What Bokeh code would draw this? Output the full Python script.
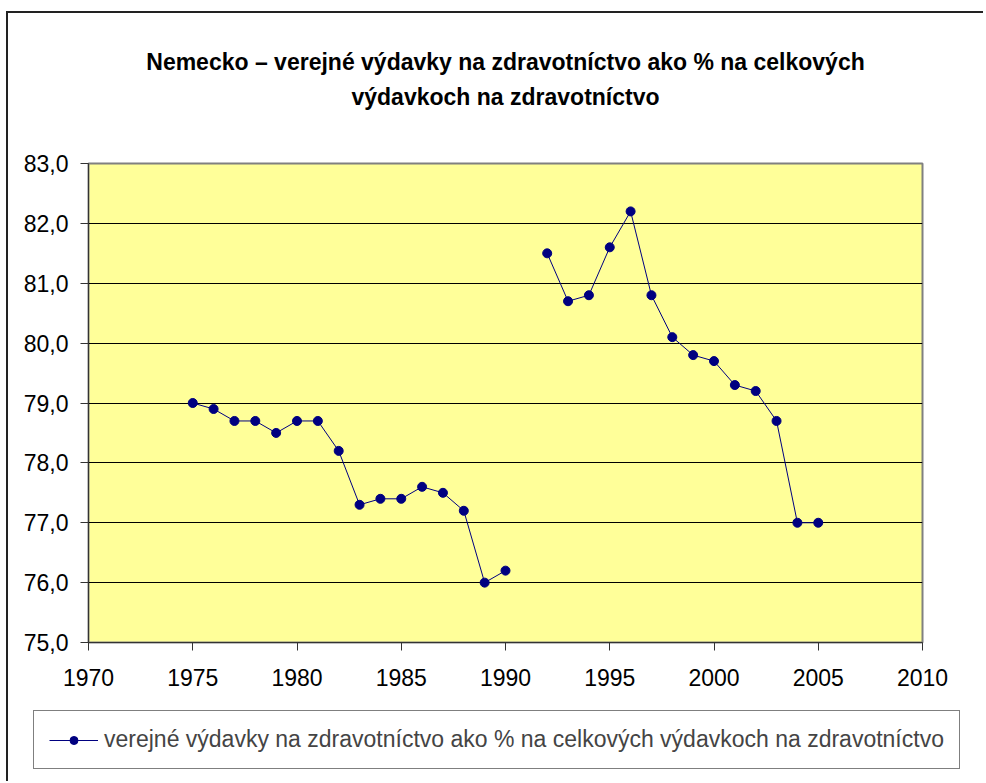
from bokeh.plotting import figure
from bokeh.models import Range1d, FixedTicker, Legend, LegendItem, Title, ColumnDataSource
from bokeh.embed import file_html
from bokeh.resources import INLINE

# ---- data ----
years = [1975, 1976, 1977, 1978, 1979, 1980, 1981, 1982, 1983, 1984, 1985, 1986, 1987, 1988, 1989, 1990,
         1991,
         1992, 1993, 1994, 1995, 1996, 1997, 1998, 1999, 2000, 2001, 2002, 2003, 2004, 2005]
values = [79.0, 78.9, 78.7, 78.7, 78.5, 78.7, 78.7, 78.2, 77.3, 77.4, 77.4, 77.6, 77.5, 77.2, 76.0, 76.2,
          float("nan"),
          81.5, 80.7, 80.8, 81.6, 82.2, 80.8, 80.1, 79.8, 79.7, 79.3, 79.2, 78.7, 77.0, 77.0]
x_ticks = [1970, 1975, 1980, 1985, 1990, 1995, 2000, 2005, 2010]
y_ticks = [75, 76, 77, 78, 79, 80, 81, 82, 83]
y_tick_labels = ["75,0", "76,0", "77,0", "78,0", "79,0", "80,0", "81,0", "82,0", "83,0"]
title_line1 = "Nemecko – verejné výdavky na zdravotníctvo ako % na celkových"
title_line2 = "výdavkoch na zdravotníctvo"
series_label = "verejné výdavky na zdravotníctvo ako % na celkových výdavkoch na zdravotníctvo"

FONT = "Liberation Sans"
NAVY = "#000080"

src = ColumnDataSource(dict(x=years, y=values))

# ---------------- main chart ----------------
p = figure(width=975, height=689, output_backend="svg", toolbar_location=None,
           x_range=Range1d(x_ticks[0], x_ticks[-1]), y_range=Range1d(y_ticks[0], y_ticks[-1]),
           min_border_left=80, min_border_right=61, min_border_top=150, min_border_bottom=60)
p.frame_width = 834
p.frame_height = 479
p.styles = {"margin-left": "6px", "margin-top": "11px",
            "border-left": "2px solid #222222", "border-top": "2px solid #222222"}

p.background_fill_color = "#FFFF99"
p.border_fill_color = "white"
p.outline_line_color = "#808080"
p.outline_line_width = 2

# title: two centred lines; p.title is outermost, Titles added first sit nearest the frame
title_style = dict(align="center", text_font=FONT, text_font_size="23px",
                   text_font_style="bold", text_color="black")
p.title.text = title_line1
p.title.align = "center"
p.title.text_font = FONT
p.title.text_font_size = "23px"
p.title.text_font_style = "bold"
p.title.text_color = "black"
p.title.standoff = 14
p.add_layout(Title(text=" ", standoff=26, **title_style), "above")
p.add_layout(Title(text=title_line2, standoff=0, **title_style), "above")

p.xgrid.grid_line_color = None
p.ygrid.grid_line_color = "black"
p.ygrid.grid_line_width = 1

p.xaxis.ticker = FixedTicker(ticks=x_ticks)
p.yaxis.ticker = FixedTicker(ticks=y_ticks)
p.yaxis.major_label_overrides = {t: l for t, l in zip(y_ticks, y_tick_labels)}
for ax in (p.xaxis[0], p.yaxis[0]):
    ax.major_tick_in = 0
    ax.major_tick_out = 8
    ax.minor_tick_line_color = None
    ax.major_tick_line_color = "#333333"
    ax.axis_line_color = "#333333"
    ax.axis_line_width = 1
    ax.major_label_text_font = FONT
    ax.major_label_text_font_size = "23px"
    ax.major_label_text_color = "black"
p.xaxis.major_label_standoff = 18
p.yaxis.major_label_standoff = 12

p.line("x", "y", source=src, line_color=NAVY, line_width=1)
p.scatter("x", "y", source=src, marker="circle", size=9, fill_color=NAVY, line_color=NAVY)

# ---------------- legend strip (separate root, directly below) ----------------
lg = figure(width=975, height=79, output_backend="svg", toolbar_location=None,
            x_range=Range1d(0, 1), y_range=Range1d(0, 1),
            x_axis_location=None, y_axis_location=None,
            min_border_left=0, min_border_right=0, min_border_top=0, min_border_bottom=0)
lg.styles = {"margin-left": "6px", "border-left": "2px solid #222222"}
lg.grid.visible = False
lg.outline_line_color = None
lg.background_fill_color = "white"
lg.border_fill_color = "white"
# same series (falls outside this strip's ranges, so only its legend entry shows)
llr = lg.line("x", "y", source=src, line_color=NAVY, line_width=1)
lsr = lg.scatter("x", "y", source=src, marker="circle", size=9, fill_color=NAVY, line_color=NAVY)

legend = Legend(items=[LegendItem(label=series_label, renderers=[llr, lsr])],
                location=(25, 12), orientation="horizontal",
                glyph_width=49, glyph_height=20, label_standoff=6, padding=15, margin=0,
                border_line_color="black", border_line_width=1,
                background_fill_color="white", background_fill_alpha=1,
                label_text_font=FONT, label_text_font_size="23px")
lg.add_layout(legend)

open("out.html", "w").write(file_html([p, lg], INLINE))
